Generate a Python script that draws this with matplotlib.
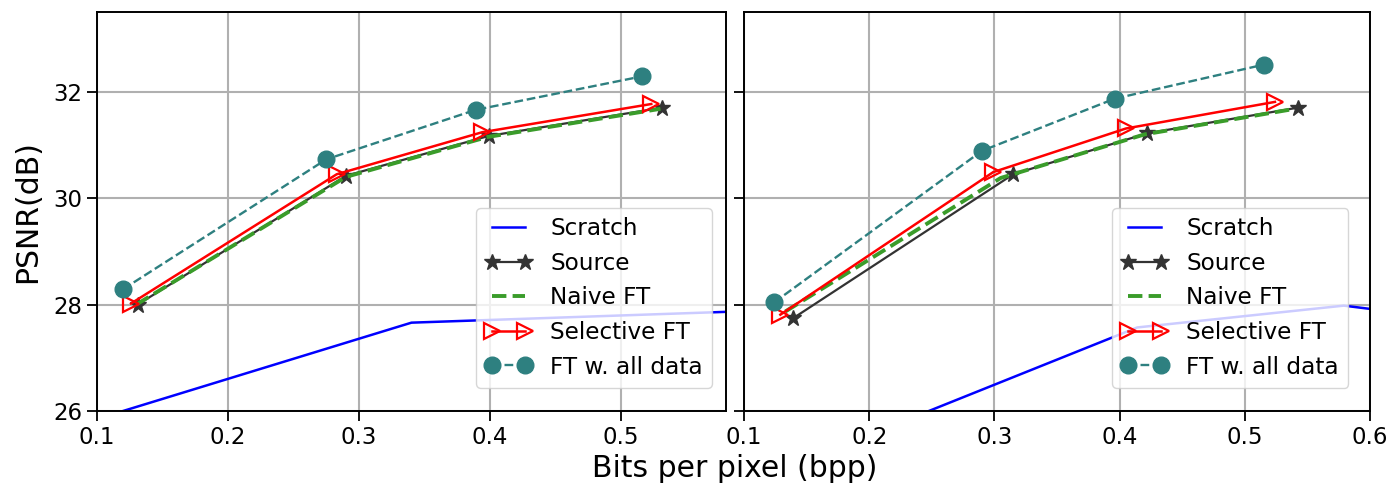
import numpy as np
import matplotlib
matplotlib.use('Agg')
import matplotlib.pyplot as plt

# Left panel data (bpp, PSNR)
left_scratch_x = [0.12, 0.34, 0.60]
left_scratch_y = [26.0, 27.66, 27.88]
left_source_x = [0.131, 0.290, 0.399, 0.531]
left_source_y = [28.00, 30.42, 31.17, 31.70]
left_naive_x = [0.130, 0.290, 0.398, 0.530]
left_naive_y = [28.00, 30.40, 31.15, 31.68]
left_selective_x = [0.126, 0.283, 0.394, 0.523]
left_selective_y = [28.02, 30.45, 31.24, 31.77]
left_all_x = [0.120, 0.275, 0.389, 0.516]
left_all_y = [28.29, 30.73, 31.66, 32.29]

# Right panel data (bpp, PSNR)
right_scratch_x = [0.20, 0.414, 0.579, 0.62]
right_scratch_y = [25.55, 27.57, 27.98, 27.86]
right_scratch_top_x = [0.31, 0.325, 0.377, 0.39]
right_scratch_top_y = [36.0, 33.51, 33.51, 36.0]
right_source_x = [0.139, 0.315, 0.422, 0.542]
right_source_y = [27.74, 30.45, 31.22, 31.70]
right_naive_x = [0.133, 0.305, 0.420, 0.540]
right_naive_y = [27.87, 30.38, 31.20, 31.68]
right_selective_x = [0.129, 0.299, 0.405, 0.524]
right_selective_y = [27.81, 30.49, 31.31, 31.81]
right_all_x = [0.124, 0.290, 0.396, 0.515]
right_all_y = [28.04, 30.89, 31.87, 32.51]

x_ticks = [0.1, 0.2, 0.3, 0.4, 0.5, 0.6]
y_ticks = [26, 28, 30, 32]

teal = '#2e8080'


def draw_panel(ax, d, xmax, legend_anchor):
    """
        Draw one panel of curves
    """
    ax.plot(d['scratch'][0], d['scratch'][1], '-', color='b', lw=1.8, label='Scratch')
    if 'scratch_top' in d:
        ax.plot(d['scratch_top'][0], d['scratch_top'][1], '-', color='b', lw=1.8)
    ax.plot(d['source'][0], d['source'][1], '*-', color='#333333', lw=1.6,
            ms=12, label='Source')
    ax.plot(d['naive'][0], d['naive'][1], '--', color='#3a9c2a', lw=2.8,
            label='Naive FT')
    ax.plot(d['selective'][0], d['selective'][1], '>-', color='r', lw=1.8,
            ms=12, mfc='none', mew=1.6, label='Selective FT')
    ax.plot(d['all'][0], d['all'][1], 'o--', color=teal, lw=1.7,
            ms=12, label='FT w. all data')

    ax.set_xlim(0.1, xmax)
    ax.set_ylim(26, 33.5)
    ax.set_xticks([t for t in x_ticks if t <= xmax + 1e-9])
    ax.set_yticks(y_ticks)
    ax.grid(True, color='#b0b0b0', lw=1.5)
    ax.set_axisbelow(True)
    ax.tick_params(labelsize=16.5, length=7, width=1.3)
    for s in ax.spines.values():
        s.set_linewidth(1.4)
    ax.legend(loc='lower right', bbox_to_anchor=legend_anchor, borderaxespad=0,
              numpoints=2, fontsize=16.7)


fig = plt.figure(figsize=(13.91, 4.91), dpi=100)
ax1 = fig.add_axes([0.0697, 0.163, 0.4522, 0.8126])
ax2 = fig.add_axes([0.5349, 0.163, 0.4501, 0.8126])

left = {
    'scratch': (left_scratch_x, left_scratch_y),
    'source': (left_source_x, left_source_y),
    'naive': (left_naive_x, left_naive_y),
    'selective': (left_selective_x, left_selective_y),
    'all': (left_all_x, left_all_y),
}
right = {
    'scratch': (right_scratch_x, right_scratch_y),
    'scratch_top': (right_scratch_top_x, right_scratch_top_y),
    'source': (right_source_x, right_source_y),
    'naive': (right_naive_x, right_naive_y),
    'selective': (right_selective_x, right_selective_y),
    'all': (right_all_x, right_all_y),
}

draw_panel(ax1, left, 0.58, (0.978, 0.058))
draw_panel(ax2, right, 0.6, (0.965, 0.058))
ax2.set_yticklabels([])

fig.text(0.528, 0.045, 'Bits per pixel (bpp)', ha='center', va='center', fontsize=21.5)
fig.text(0.020, 0.57, 'PSNR(dB)', ha='center', va='center', rotation=90, fontsize=21.5)

fig.savefig('out.png', dpi=100)
plt.close()
